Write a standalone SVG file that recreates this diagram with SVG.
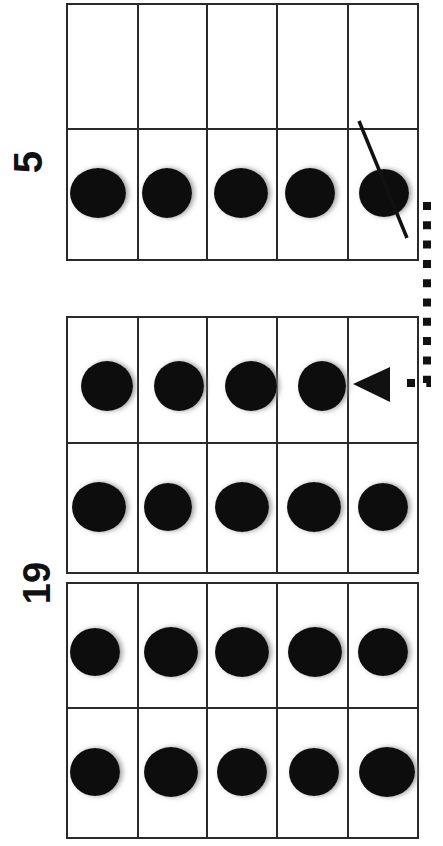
<svg xmlns="http://www.w3.org/2000/svg" width="443" height="846" viewBox="0 0 443 846">
<style>
.frame{fill:#fff;stroke:#2a2a2a;stroke-width:2}
.grid{stroke:#2a2a2a;stroke-width:2;fill:none}
.dot{fill:#0d0d0d;filter:url(#sh)}
.lbl{font-family:"Liberation Sans",Arial,sans-serif;font-weight:bold;fill:#111;text-anchor:middle}
.conn{stroke:#111;stroke-width:8;fill:none;stroke-dasharray:8 11.3}
</style>
<defs>
<filter id="sh" x="-30%" y="-30%" width="160%" height="160%">
<feDropShadow dx="2.5" dy="0" stdDeviation="2.5" flood-color="#888" flood-opacity="0.8"/>
</filter>
</defs>
<rect width="443" height="846" fill="#fff"/>
<g id="frame5">
<rect class="frame" x="67" y="4" width="351" height="256"/>
<path class="grid" d="M67 129H418M138 4V260M207 4V260M277 4V260M348 4V260"/>
<ellipse class="dot" cx="98" cy="193" rx="28" ry="25"/>
<ellipse class="dot" cx="167" cy="193" rx="25" ry="25"/>
<ellipse class="dot" cx="241" cy="193" rx="27" ry="25"/>
<ellipse class="dot" cx="310" cy="193" rx="25" ry="25"/>
<ellipse class="dot" cx="384" cy="193" rx="25" ry="24"/>
<line x1="359" y1="121" x2="407" y2="238" stroke="#111" stroke-width="3.5"/>
</g>
<g id="frame19a">
<rect class="frame" x="67" y="317" width="351" height="256"/>
<path class="grid" d="M67 443H418M138 317V573M207 317V573M277 317V573M348 317V573"/>
<ellipse class="dot" cx="107" cy="386" rx="26" ry="25"/>
<ellipse class="dot" cx="179" cy="386" rx="25" ry="25"/>
<ellipse class="dot" cx="251" cy="386" rx="26" ry="25"/>
<ellipse class="dot" cx="322" cy="386" rx="24" ry="25"/>
<ellipse class="dot" cx="99" cy="507" rx="27" ry="25"/>
<ellipse class="dot" cx="168" cy="507" rx="24" ry="24"/>
<ellipse class="dot" cx="242" cy="507" rx="27" ry="25"/>
<ellipse class="dot" cx="314" cy="507" rx="27" ry="25"/>
<ellipse class="dot" cx="383" cy="507" rx="25" ry="24"/>
</g>
<g id="frame19b">
<rect class="frame" x="67" y="583" width="351" height="255"/>
<path class="grid" d="M67 708H418M138 583V838M207 583V838M277 583V838M348 583V838"/>
<ellipse class="dot" cx="95" cy="652" rx="25" ry="24"/>
<ellipse class="dot" cx="171" cy="652" rx="27" ry="25"/>
<ellipse class="dot" cx="242" cy="652" rx="27" ry="25"/>
<ellipse class="dot" cx="315" cy="652" rx="27" ry="25"/>
<ellipse class="dot" cx="383" cy="652" rx="25" ry="24"/>
<ellipse class="dot" cx="95" cy="772" rx="25" ry="24"/>
<ellipse class="dot" cx="171" cy="772" rx="27" ry="25"/>
<ellipse class="dot" cx="242" cy="772" rx="25" ry="24"/>
<ellipse class="dot" cx="314" cy="772" rx="25" ry="24"/>
<ellipse class="dot" cx="387" cy="772" rx="28" ry="25"/>
</g>
<g id="label5"><text class="lbl" font-size="40" transform="translate(42 162) rotate(-90)">5</text></g>
<g id="label19"><text class="lbl" font-size="38" transform="translate(50 583) rotate(-90)">19</text></g>
<g id="connectors">
<path class="conn" d="M427 202V383H399"/>
<polygon points="353,384 390,367 390,402" fill="#111"/>
</g>
</svg>
